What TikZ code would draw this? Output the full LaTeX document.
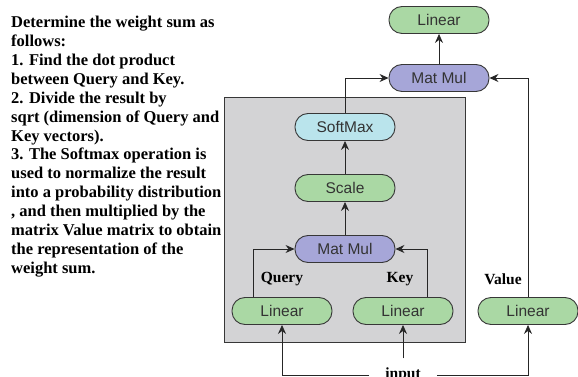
\documentclass[tikz,border=0pt]{standalone}
\usepackage{fontspec}
\setmainfont{Liberation Serif}
\newfontfamily\boxfont{Liberation Sans}
\usetikzlibrary{arrows.meta,positioning}

\definecolor{lingreen}{RGB}{170,216,164}
\definecolor{mulblue}{RGB}{166,166,216}
\definecolor{softcyan}{RGB}{186,228,236}
\definecolor{panelgray}{RGB}{211,211,213}
\definecolor{edgegray}{RGB}{55,55,55}

\tikzset{
    op/.style={draw=edgegray, line width=0.9pt, rounded corners=13pt,
        minimum width=100pt, minimum height=27pt, inner sep=0pt,
        font=\boxfont\fontsize{15.5}{18}\selectfont, text=black!80},
    lin/.style={op, fill=lingreen},
    mul/.style={op, fill=mulblue},
    soft/.style={op, fill=softcyan},
    tag/.style={font=\bfseries\fontsize{15.5}{18}\selectfont},
    flow/.style={draw=black!85, line width=0.8pt, -{Stealth[length=9pt,width=8pt,inset=3pt]}}
}

\begin{document}
\begin{tikzpicture}[x=1pt, y=-1pt]
    \useasboundingbox (0,0) rectangle (578,377);

    %explanation on the left
        \node[anchor=north west, inner sep=0pt, align=left,
            font=\bfseries\fontsize{16.5}{18.9}\selectfont] (note) at (11,16)
            {Determine the weight sum as\\
             follows:\\
             1. Find the dot product\\
             between Query and Key.\\
             2. Divide the result by\\
             sqrt (dimension of Query and\\
             Key vectors).\\
             3. The Softmax operation is\\
             used to normalize the result\\
             into a probability distribution\\
             , and then multiplied by the\\
             matrix Value matrix to obtain\\
             the representation of the\\
             weight sum.};

    %gray panel behind the scaled dot product
        \draw[fill=panelgray, draw=edgegray, line width=0.9pt] (224,97) rectangle (465,342);

    %blocks
        \node[lin]  (out)  at (439,20)  {Linear};
        \node[mul]  (mm2)  at (439,78)  {Mat Mul};
        \node[soft] (sm)   at (345,127) {SoftMax};
        \node[lin]  (sc)   at (345,188) {Scale};
        \node[mul]  (mm1)  at (345,249) {Mat Mul};
        \node[lin]  (qlin) at (282,311) {Linear};
        \node[lin]  (klin) at (403,311) {Linear};
        \node[lin]  (vlin) at (528,311) {Linear};

        \node[tag] (q) at (282,279) {Query};
        \node[tag] (k) at (400,279) {Key};
        \node[tag] (v) at (503,279) {Value};

        \node[tag, inner xsep=16pt, inner ysep=9.5pt] (input) at (403,375) {input};

    %connections
        \draw[flow] (mm2) -- (out);
        \draw[flow] (sm.north) |- (mm2.west);
        \draw[flow] (vlin.north) |- (mm2.east);
        \draw[flow] (sc) -- (sm);
        \draw[flow] (mm1) -- (sc);
        \draw[flow] ([xshift=-29pt]qlin.north) |- (mm1.west);
        \draw[flow] ([xshift=24pt]klin.north) |- (mm1.east);
        \draw[flow] (input.west) -| (qlin.south);
        \draw[flow] (input.north) -- (klin.south);
        \draw[flow] (input.east) -| (vlin.south);

\end{tikzpicture}
\end{document}
